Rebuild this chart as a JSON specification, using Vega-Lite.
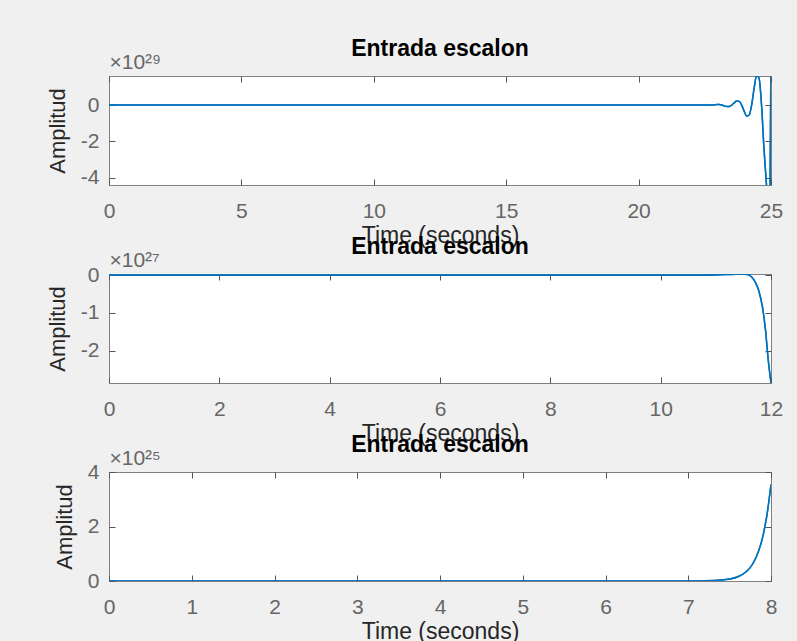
{
  "$schema": "https://vega.github.io/schema/vega-lite/v6.json",
  "padding": {"left": 45, "top": 37, "right": 16, "bottom": 2},
  "background": "#f0f0f0",
  "spacing": 89,
  "bounds": "flush",
  "datasets": {
    "p1": [
      {"t": 0, "amp": 0}, {"t": 22.768, "amp": 0}, {"t": 22.861, "amp": 0.017}, {"t": 22.955, "amp": 0.031},
      {"t": 23.049, "amp": 0.028}, {"t": 23.143, "amp": 0}, {"t": 23.236, "amp": -0.046}, {"t": 23.33, "amp": -0.083},
      {"t": 23.424, "amp": -0.075}, {"t": 23.518, "amp": 0}, {"t": 23.611, "amp": 0.123}, {"t": 23.705, "amp": 0.224},
      {"t": 23.799, "amp": 0.203}, {"t": 23.893, "amp": 0}, {"t": 23.986, "amp": -0.333}, {"t": 24.08, "amp": -0.603},
      {"t": 24.174, "amp": -0.547}, {"t": 24.268, "amp": 0}, {"t": 24.361, "amp": 0.899}, {"t": 24.455, "amp": 1.629},
      {"t": 24.549, "amp": 1.477}, {"t": 24.643, "amp": 0}, {"t": 24.736, "amp": -2.427}, {"t": 24.83, "amp": -4.4},
      {"t": 24.9, "amp": -5.6}, {"t": 24.96, "amp": -5.6}, {"t": 25.0, "amp": 3.0}
    ],
    "p2": [
      {"t": 0, "amp": 0}, {"t": 10.8, "amp": 0}, {"t": 11.0, "amp": 0.004}, {"t": 11.2, "amp": 0.015},
      {"t": 11.35, "amp": 0.025}, {"t": 11.47, "amp": 0.03}, {"t": 11.58, "amp": 0.015}, {"t": 11.65, "amp": -0.05},
      {"t": 11.72, "amp": -0.2}, {"t": 11.78, "amp": -0.42}, {"t": 11.85, "amp": -0.89}, {"t": 11.9, "amp": -1.45},
      {"t": 11.95, "amp": -2.25}, {"t": 12.0, "amp": -2.86}
    ],
    "p3": [
      {"t": 0, "amp": 0}, {"t": 6.8, "amp": 0}, {"t": 7.0, "amp": 0.0015}, {"t": 7.2, "amp": 0.007},
      {"t": 7.4, "amp": 0.033}, {"t": 7.5, "amp": 0.072}, {"t": 7.6, "amp": 0.156}, {"t": 7.7, "amp": 0.34},
      {"t": 7.75, "amp": 0.5}, {"t": 7.8, "amp": 0.744}, {"t": 7.85, "amp": 1.1}, {"t": 7.9, "amp": 1.62},
      {"t": 7.95, "amp": 2.4}, {"t": 8.0, "amp": 3.54}
    ]
  },
  "vconcat": [
    {
      "title": "Entrada escalon",
      "width": 662, "height": 109,
      "data": {"name": "p1"},
      "layer": [
        {
          "mark": {"type": "line", "color": "#0072BD", "strokeWidth": 1.5, "clip": true, "interpolate": "monotone"},
          "encoding": {
            "x": {"field": "t", "type": "quantitative", "scale": {"domain": [0, 25], "nice": false, "zero": false},
              "axis": {"orient": "bottom", "values": [0, 5, 10, 15, 20, 25], "title": "Time (seconds)"}},
            "y": {"field": "amp", "type": "quantitative", "scale": {"domain": [-4.4, 1.6], "nice": false, "zero": false},
              "axis": {"orient": "left", "values": [-4, -2, 0], "title": "Amplitud"}}
          }
        },
        {
          "mark": {"type": "line", "color": "#0072BD", "strokeWidth": 1.5, "clip": true, "interpolate": "monotone"},
          "encoding": {
            "x": {"field": "t", "type": "quantitative", "scale": {"domain": [0, 25], "nice": false, "zero": false},
              "axis": {"orient": "top", "values": [0, 5, 10, 15, 20, 25], "labels": false, "title": "×10²⁹",
                "titleAnchor": "start", "titleAlign": "left", "titlePadding": 3, "titleFontSize": 21, "titleColor": "#666666"}},
            "y": {"field": "amp", "type": "quantitative", "scale": {"domain": [-4.4, 1.6], "nice": false, "zero": false},
              "axis": {"orient": "right", "values": [-4, -2, 0], "labels": false, "title": null}}
          }
        }
      ],
      "resolve": {"axis": {"x": "independent", "y": "independent"}}
    },
    {
      "title": "Entrada escalon",
      "width": 662, "height": 109,
      "data": {"name": "p2"},
      "layer": [
        {
          "mark": {"type": "line", "color": "#0072BD", "strokeWidth": 1.5, "clip": true, "interpolate": "monotone"},
          "encoding": {
            "x": {"field": "t", "type": "quantitative", "scale": {"domain": [0, 12], "nice": false, "zero": false},
              "axis": {"orient": "bottom", "values": [0, 2, 4, 6, 8, 10, 12], "title": "Time (seconds)"}},
            "y": {"field": "amp", "type": "quantitative", "scale": {"domain": [-2.86, 0.03], "nice": false, "zero": false},
              "axis": {"orient": "left", "values": [-2, -1, 0], "title": "Amplitud"}}
          }
        },
        {
          "mark": {"type": "line", "color": "#0072BD", "strokeWidth": 1.5, "clip": true, "interpolate": "monotone"},
          "encoding": {
            "x": {"field": "t", "type": "quantitative", "scale": {"domain": [0, 12], "nice": false, "zero": false},
              "axis": {"orient": "top", "values": [0, 2, 4, 6, 8, 10, 12], "labels": false, "title": "×10²⁷",
                "titleAnchor": "start", "titleAlign": "left", "titlePadding": 3, "titleFontSize": 21, "titleColor": "#666666"}},
            "y": {"field": "amp", "type": "quantitative", "scale": {"domain": [-2.86, 0.03], "nice": false, "zero": false},
              "axis": {"orient": "right", "values": [-2, -1, 0], "labels": false, "title": null}}
          }
        }
      ],
      "resolve": {"axis": {"x": "independent", "y": "independent"}}
    },
    {
      "title": "Entrada escalon",
      "width": 662, "height": 109,
      "data": {"name": "p3"},
      "layer": [
        {
          "mark": {"type": "line", "color": "#0072BD", "strokeWidth": 1.5, "clip": true, "interpolate": "monotone"},
          "encoding": {
            "x": {"field": "t", "type": "quantitative", "scale": {"domain": [0, 8], "nice": false, "zero": false},
              "axis": {"orient": "bottom", "values": [0, 1, 2, 3, 4, 5, 6, 7, 8], "title": "Time (seconds)"}},
            "y": {"field": "amp", "type": "quantitative", "scale": {"domain": [0, 4], "nice": false, "zero": false},
              "axis": {"orient": "left", "values": [0, 2, 4], "title": "Amplitud"}}
          }
        },
        {
          "mark": {"type": "line", "color": "#0072BD", "strokeWidth": 1.5, "clip": true, "interpolate": "monotone"},
          "encoding": {
            "x": {"field": "t", "type": "quantitative", "scale": {"domain": [0, 8], "nice": false, "zero": false},
              "axis": {"orient": "top", "values": [0, 1, 2, 3, 4, 5, 6, 7, 8], "labels": false, "title": "×10²⁵",
                "titleAnchor": "start", "titleAlign": "left", "titlePadding": 3, "titleFontSize": 21, "titleColor": "#666666"}},
            "y": {"field": "amp", "type": "quantitative", "scale": {"domain": [0, 4], "nice": false, "zero": false},
              "axis": {"orient": "right", "values": [0, 2, 4], "labels": false, "title": null}}
          }
        }
      ],
      "resolve": {"axis": {"x": "independent", "y": "independent"}}
    }
  ],
  "config": {
    "view": {"fill": "white", "stroke": "#808080", "strokeWidth": 1},
    "axis": {
      "domain": false, "grid": false,
      "tickColor": "#555555", "tickSize": -6, "tickWidth": 1,
      "labelFont": "Liberation Sans", "labelFontSize": 21, "labelColor": "#666666",
      "labelFlush": false, "labelOverlap": false, "labelBound": false,
      "labelExpr": "replace(datum.label, '−', '-')",
      "titleFont": "Liberation Sans", "titleFontSize": 22, "titleFontWeight": "normal", "titleColor": "#262626"
    },
    "axisBottom": {"labelPadding": 21, "titlePadding": 3, "titleFontSize": 23},
    "axisLeft": {"labelPadding": 16, "titlePadding": 11},
    "title": {"font": "Liberation Sans", "fontSize": 23, "fontWeight": "bold", "color": "#000000", "offset": -9, "frame": "group", "anchor": "middle"}
  }
}
